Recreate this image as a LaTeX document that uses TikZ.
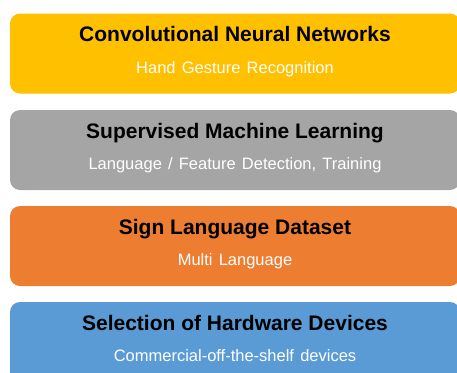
\documentclass[tikz,border=0pt]{standalone}
\usepackage{fontspec}
\setmainfont{Liberation Sans}
\newfontfamily\subfont[WordSpace=1.35]{Liberation Sans}
\usetikzlibrary{positioning}
\definecolor{cnnyellow}{HTML}{FFC000}
\definecolor{mlgray}{HTML}{A5A5A5}
\definecolor{dataorange}{HTML}{ED7D31}
\definecolor{hwblue}{HTML}{5B9BD5}
\tikzset{layer/.style={rounded corners=10pt, minimum width=450pt, minimum height=80pt, inner sep=0pt},
  title/.style={anchor=base, font=\fontsize{21}{25}\selectfont\bfseries},
  subtitle/.style={anchor=base, text=white, font=\subfont\fontsize{16.5}{19}\selectfont}}

\begin{document}
\begin{tikzpicture}[x=1pt,y=-1pt]
\useasboundingbox (0,0) rectangle (457,372);
\clip (0,0) rectangle (457,372);
\node[layer, fill=cnnyellow] (cnn) at (235,53.5) {};
\node[layer, fill=mlgray] (ml) at (235,150) {};
\node[layer, fill=dataorange] (data) at (235,246) {};
\node[layer, fill=hwblue] (hw) at (235,342) {};
\node[title] (cnnt) at ([yshift=-28.5pt]cnn.north) {Convolutional Neural Networks};
\node[subtitle] (cnns) at ([yshift=-60pt]cnn.north) {Hand Gesture Recognition};
\node[title] (mlt) at ([yshift=-28.5pt]ml.north) {Supervised Machine Learning};
\node[subtitle] (mls) at ([yshift=-60pt]ml.north) {Language / Feature Detection, Training};
\node[title] (datat) at ([yshift=-28.5pt]data.north) {Sign Language Dataset};
\node[subtitle] (datas) at ([yshift=-60pt]data.north) {Multi Language};
\node[title] (hwt) at ([yshift=-28.5pt]hw.north) {Selection of Hardware Devices};
\node[subtitle] (hws) at ([yshift=-60pt]hw.north) {Commercial-off-the-shelf devices};
\end{tikzpicture}
\end{document}
